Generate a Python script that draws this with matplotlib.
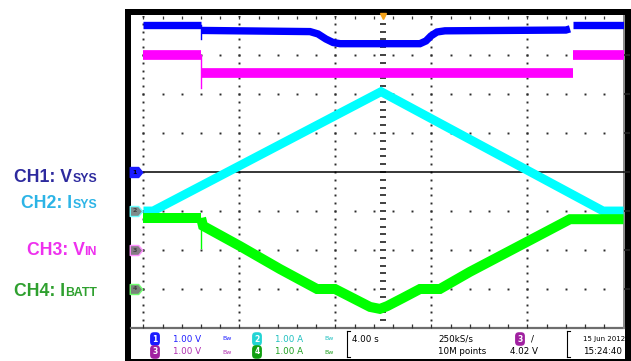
import matplotlib
matplotlib.use('Agg')
import matplotlib.pyplot as plt
import numpy as np
from matplotlib.patches import Rectangle
from matplotlib.path import Path

# ---------------- data (time in s, channel values in V / A) ----------------
# CH1: VSYS (1.00 V/div, ground at 0 div)
ch1_t_a = [0.0, 2.40]
ch1_v_a = [3.77, 3.77]
ch1_t_b = [2.40, 6.94, 7.27, 7.60, 7.90, 8.19, 11.52, 11.77, 11.98, 12.23, 12.56, 17.60, 17.77]
ch1_v_b = [3.63, 3.60, 3.54, 3.41, 3.32, 3.29, 3.29, 3.36, 3.49, 3.59, 3.62, 3.64, 3.67]
ch1_t_c = [17.90, 20.0]
ch1_v_c = [3.76, 3.76]
ch1_spike_t = [2.40, 2.40]
ch1_spike_v = [3.77, 3.41]

# CH2: ISYS (1.00 A/div, ground at -1 div)
ch2_t = [0.0, 0.40, 9.90, 19.15, 20.0]
ch2_i = [0.0, 0.0, 3.06, 0.0, 0.0]

# CH3: VIN (1.00 V/div, ground at -2 div)
ch3_t_a = [0.0, 2.40]
ch3_v_a = [5.00, 5.00]
ch3_t_b = [2.40, 17.90]
ch3_v_b = [4.54, 4.54]
ch3_t_c = [17.90, 20.0]
ch3_v_c = [5.00, 5.00]
ch3_spike_t = [2.40, 2.40]
ch3_spike_v = [5.00, 4.15]

# CH4: IBATT (1.00 A/div, ground at -3 div)
ch4_t_a = [0.0, 2.40]
ch4_i_a = [1.82, 1.82]
ch4_t_b = [2.40, 2.48, 4.02, 5.69, 7.23, 7.98, 9.44, 9.85, 10.15, 10.81, 11.52,
           12.35, 13.60, 15.98, 17.77, 20.0]
ch4_i_b = [1.82, 1.62, 1.10, 0.51, 0.00, 0.00, -0.46, -0.51, -0.44, -0.23, 0.00,
           0.00, 0.44, 1.21, 1.79, 1.79]
ch4_spike_t = [2.40, 2.40]
ch4_spike_i = [1.82, 1.05]

scales = [1.0, 1.0, 1.0, 1.0]          # units per division
offsets = [0.0, -1.0, -2.0, -3.0]       # ground level (div)
sec_per_div = 4.0

labels_main = ["CH1: V", "CH2: I", "CH3: V", "CH4: I"]
labels_small = ["SYS", "SYS", "IN", "BATT"]
label_colors = ["#2d2a9e", "#2cb4e6", "#ee30ee", "#2fa02f"]
trace_colors = ["#0000ff", "#00ffff", "#ff00ff", "#00ff00"]

# ---------------- figure ----------------
W, H = 631, 361
fig = plt.figure(figsize=(W / 100, H / 100), dpi=100)
fig.patch.set_facecolor('white')


def fx(px):
    return px / W


def fy(py):
    return 1 - py / H


fig.patches.append(Rectangle((fx(125), fy(361)), fx(631) - fx(125), fy(9) - fy(361),
                             transform=fig.transFigure, facecolor='black',
                             edgecolor='none', zorder=-3))
fig.patches.append(Rectangle((fx(131), fy(358.5)), fx(624.5) - fx(131), fy(15) - fy(358.5),
                             transform=fig.transFigure, facecolor='white',
                             edgecolor='none', zorder=-2))

ax = fig.add_axes([fx(131), fy(328), fx(623.5) - fx(131), fy(16) - fy(328)])
ax.set_xlim(-0.52, 20.0)
ax.set_ylim(-4, 4)
ax.axis('off')
ax.patch.set_alpha(0)


def to_div(vals, ch):
    return np.asarray(vals) / scales[ch] + offsets[ch]


# graticule
dot_kw = dict(ls='none', marker='s', ms=1.4, mew=0, color='#2a2a2a', zorder=1)
ys_minor = np.arange(-4, 4.001, 0.2)
for gx in [0, 4, 8, 12, 16]:
    ax.plot(np.full_like(ys_minor, gx), ys_minor, **dot_kw)
xs_minor = np.arange(0, 20.001, 0.8)
for gy in [-3, -2, -1, 1, 2, 3]:
    ax.plot(xs_minor, np.full_like(xs_minor, gy), **dot_kw)
# center vertical axis with dashes
ax.plot(np.full_like(ys_minor[1:-1], 10), ys_minor[1:-1], ls='none', marker='_',
        ms=4.5, mew=1.3, color='#333333', zorder=1)
# top edge ticks
ax.plot(xs_minor, np.full_like(xs_minor, 4), ls='none', marker=3, ms=2.5,
        mew=0.9, color='#333333', clip_on=False, zorder=1)
# bottom edge
ax.plot([-0.52, 20], [-4, -4], color='#6e6e6e', lw=1.6, clip_on=False, zorder=1)
ax.plot(xs_minor, np.full_like(xs_minor, -4), ls='none', marker=2, ms=3,
        mew=0.9, color='#333333', clip_on=False, zorder=1)
# right edge
ax.plot([20, 20], [-4, 4], color='#8a8a8a', lw=1.4, clip_on=False, zorder=1)
ax.plot(np.full(7, 20), [-3, -2, -1, 0, 1, 2, 3], ls='none', marker=1, ms=4,
        mew=1.2, color='#222222', clip_on=False, zorder=1)

# black reference line
ax.plot([-0.06, 20], [0, 0], color='black', lw=1.1, zorder=2, solid_capstyle='butt')

# traces
lw_kw = dict(solid_capstyle='butt', solid_joinstyle='miter')
# CH1
for tt, vv in [(ch1_t_a, ch1_v_a), (ch1_t_b, ch1_v_b), (ch1_t_c, ch1_v_c)]:
    ax.plot(tt, to_div(vv, 0), color=trace_colors[0], lw=5.3, zorder=3, **lw_kw)
ax.plot(ch1_spike_t, to_div(ch1_spike_v, 0), color=trace_colors[0], lw=1.0, zorder=3)
# CH2
ax.plot(ch2_t, to_div(ch2_i, 1), color=trace_colors[1], lw=6.4, zorder=4, **lw_kw)
# CH3
for tt, vv in [(ch3_t_a, ch3_v_a), (ch3_t_b, ch3_v_b), (ch3_t_c, ch3_v_c)]:
    ax.plot(tt, to_div(vv, 2), color=trace_colors[2], lw=7.0, zorder=5, **lw_kw)
ax.plot(ch3_spike_t, to_div(ch3_spike_v, 2), color=trace_colors[2], lw=1.0, zorder=5)
# CH4
ax.plot(ch4_t_a, to_div(ch4_i_a, 3), color=trace_colors[3], lw=7.2, zorder=6, **lw_kw)
ax.plot(ch4_t_b, to_div(ch4_i_b, 3), color=trace_colors[3], lw=7.2, zorder=6, **lw_kw)
ax.plot(ch4_spike_t, to_div(ch4_spike_i, 3), color=trace_colors[3], lw=1.0, zorder=6)

# ground markers
penta = Path([(-1, -0.8), (0.35, -0.8), (1, 0), (0.35, 0.8), (-1, 0.8), (-1, -0.8)],
             [Path.MOVETO, Path.LINETO, Path.LINETO, Path.LINETO, Path.LINETO, Path.CLOSEPOLY])
mk_face = ['#1a1aff', '#7d8c8c', '#857a85', '#7a857a']
mk_edge = ['#1a1aff', '#70ffff', '#ff90ff', '#70ff70']
mk_txt = ['#000000', '#404040', '#404040', '#404040']
for ch in range(4):
    ax.plot([-0.31], [offsets[ch]], marker=penta, ms=9, mfc=mk_face[ch], mec=mk_edge[ch],
            mew=1.0, ls='none', clip_on=False, zorder=8)
    ax.text(-0.36, offsets[ch], str(ch + 1), fontsize=4.5, color=mk_txt[ch],
            ha='center', va='center', zorder=9, clip_on=False, fontweight='bold')

# trigger position marker
ax.plot([10], [4.0], marker='v', ms=5, color='#f5a31a', mec='#f5a31a', ls='none',
        clip_on=False, zorder=9)

# ---------------- left labels ----------------
label_baselines = [182, 208, 255, 296]
for i in range(4):
    ts = fig.text(fx(97), fy(label_baselines[i]), labels_small[i], ha='right', va='baseline',
                  fontsize=8.8, fontweight='bold', color=label_colors[i],
                  family='Liberation Sans')
    ax.annotate(labels_main[i], xy=(0, fy(label_baselines[i])),
                xycoords=(ts, 'figure fraction'), ha='right', va='baseline',
                fontsize=12.7, fontweight='bold', color=label_colors[i],
                family='Liberation Sans', annotation_clip=False)

# ---------------- info bar ----------------
ax2 = fig.add_axes([fx(131), fy(358.5), fx(624) - fx(131), fy(329) - fy(358.5)])
ax2.set_xlim(131, 624)
ax2.set_ylim(358.5, 329)
ax2.axis('off')

r1, r2 = 339, 352
fs = 6.3
circ_colors = ['#1a1aff', '#22d4d4', '#a020a0', '#10a010']
info_colors = ['#2020ff', '#20c0c0', '#b030b0', '#20a020']
ch_pos = [(155, r1), (257, r1), (155, r2), (257, r2)]
ch_units = ['1.00 V', '1.00 A', '1.00 V', '1.00 A']
for i in range(4):
    cx, cy = ch_pos[i]
    ax2.text(cx, cy, str(i + 1), ha='center', va='center', fontsize=5.5, color='white',
             fontweight='bold',
             bbox=dict(boxstyle='round,pad=0.3,rounding_size=0.5', fc=circ_colors[i], ec='none'))
    ax2.text(cx + 18, cy, ch_units[i], ha='left', va='center', fontsize=fs, color=info_colors[i])
    ax2.text(cx + 67, cy, 'Bw', ha='left', va='center', fontsize=4.5, color=info_colors[i])

for sx in [347, 567]:
    ax2.plot([sx, sx], [331, 357], color='black', lw=0.8)
    ax2.plot([sx, sx + 3], [331, 331], color='black', lw=0.8)
    ax2.plot([sx, sx + 3], [357, 357], color='black', lw=0.8)

ax2.text(352, r1, '4.00 s', ha='left', va='center', fontsize=fs, color='black')
ax2.text(438, r1, '250kS/s', ha='left', va='center', fontsize=fs, color='black')
ax2.text(438, r2, '10M points', ha='left', va='center', fontsize=fs, color='black')
ax2.text(520, r1, '3', ha='center', va='center', fontsize=5.5, color='white', fontweight='bold',
         bbox=dict(boxstyle='round,pad=0.3,rounding_size=0.5', fc='#a020a0', ec='none'))
ax2.text(531, r1, '/', ha='left', va='center', fontsize=fs, color='black')
ax2.text(510, r2, '4.02 V', ha='left', va='center', fontsize=fs, color='black')
ax2.text(583, r1, '15 Jun 2012', ha='left', va='center', fontsize=5.0, color='black')
ax2.text(583, r2, '15:24:40', ha='left', va='center', fontsize=fs, color='black')

fig.savefig('out.png', dpi=100, facecolor='white')
